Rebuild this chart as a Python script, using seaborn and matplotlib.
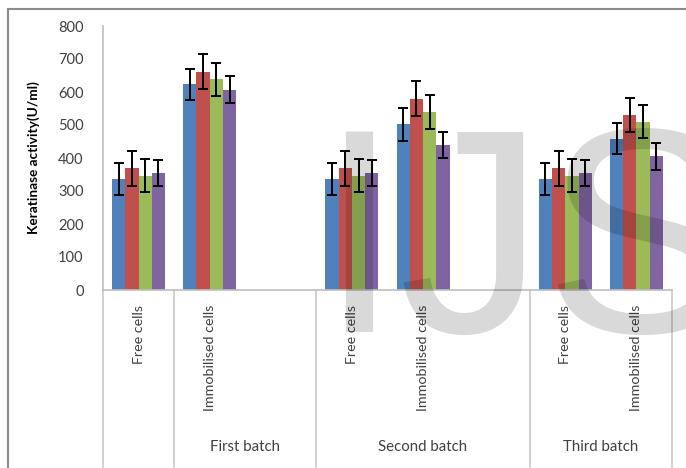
import matplotlib
matplotlib.use("Agg")
import matplotlib.pyplot as plt
import matplotlib.transforms as mtransforms
from matplotlib.patches import Rectangle
import seaborn as sns
import pandas as pd
import numpy as np

# ---- data ----
slots = ["F1", "I1", "E1", "F2", "I2", "E2", "F3", "I3"]
slot_labels = ["Free cells", "Immobilised cells", "", "Free cells", "Immobilised cells", "", "Free cells", "Immobilised cells"]
data_slots = ["F1", "I1", "F2", "I2", "F3", "I3"]
series = ["S1", "S2", "S3", "S4"]
values = {
    "S1": [336, 623, 336, 502, 336, 458],
    "S2": [369, 661, 369, 580, 369, 530],
    "S3": [346, 638, 346, 540, 346, 510],
    "S4": [354, 607, 354, 439, 354, 405],
}
errors = {
    "S1": [49, 48, 49, 49, 49, 47],
    "S2": [53, 53, 53, 52, 53, 52],
    "S3": [50, 50, 50, 51, 50, 50],
    "S4": [40, 40, 40, 40, 40, 41],
}
groups = ["First batch", "Second batch", "Third batch"]
group_spans = [(1, 2), (3, 5), (6, 7)]
separators = [-0.5, 0.5, 2.5, 5.5, 7.5]
colors = ["#4F81BD", "#C0504D", "#9BBB59", "#8064A2"]
yticks = [0, 100, 200, 300, 400, 500, 600, 700, 800]

rows = []
for s in series:
    for slot, v, e in zip(data_slots, values[s], errors[s]):
        rows.append({"slot": slot, "series": s, "value": v, "err": e})
df = pd.DataFrame(rows)

W, H = 686, 468
fig = plt.figure(figsize=(W / 100, H / 100), dpi=100)
ax = fig.add_axes([103 / W, (H - 290) / H, (672 - 103) / W, (290 - 26) / H])

sns.barplot(data=df, x="slot", y="value", hue="series", order=slots,
            hue_order=series, palette=colors, width=0.745, errorbar=None,
            saturation=1, legend=False, ax=ax, edgecolor="none", linewidth=0)

# error bars at the bar centres taken from seaborn's patches
for s, cont in zip(series, ax.containers):
    sub = df[df.series == s].set_index("slot")
    bars = [p for p in cont.patches if not np.isnan(p.get_height()) and p.get_height() > 0]
    xs = [p.get_x() + p.get_width() / 2 for p in bars]
    ys = [p.get_height() for p in bars]
    es = [sub.loc[sl, "err"] for sl in data_slots][:len(xs)]
    ax.errorbar(xs, ys, yerr=es, fmt="none", ecolor="black", elinewidth=1.4,
                capsize=3.5, capthick=1.4, zorder=5)

ax.set_xlim(-0.5, 7.5)
ax.set_ylim(0, 800)
ax.set_yticks(yticks)
ax.set_yticklabels([str(t) for t in yticks], fontsize=10.5, color="#404040", family="Lato")
ax.tick_params(axis="y", length=0, pad=14)
ax.tick_params(axis="x", length=0)
ax.set_xticks([])
ax.set_xlabel("")
ax.set_ylabel("Keratinase activity(U/ml)", fontsize=9.8, fontweight="bold", family="Lato", labelpad=13)
for sp in ["top", "right"]:
    ax.spines[sp].set_visible(False)
for sp in ["left", "bottom"]:
    ax.spines[sp].set_color("#bfbfbf")
    ax.spines[sp].set_linewidth(1.2)

trans = mtransforms.blended_transform_factory(ax.transData, ax.transAxes)
bot = -(467 - 290) / (290 - 26)
for xsep in separators:
    ax.plot([xsep, xsep], [0, bot], transform=trans, color="#c8c8c8", lw=1.2, clip_on=False)

lab_y = -(305 - 290) / (290 - 26)
for i, lab in enumerate(slot_labels):
    if lab:
        ax.text(i, lab_y, lab, transform=trans, rotation=90, ha="center", va="top",
                fontsize=10.3, color="#404040", family="Lato")

grp_y = -(447 - 290) / (290 - 26)
for g, (a, b) in zip(groups, group_spans):
    cx = ((a - 0.5) + (b + 0.5)) / 2
    ax.text(cx, grp_y, g, transform=trans, ha="center", va="center",
            fontsize=10.8, color="#404040", family="Lato")

# chart-area border (cropped at right/bottom)
fig.add_artist(Rectangle((8 / W, -0.1), 1.2, (H - 9) / H + 0.1, transform=fig.transFigure,
                         fill=False, edgecolor="#8c8c8c", lw=1.5))

# watermark
fig.text(318 / W, (H - 332) / H, "IJS", fontsize=210, family="Liberation Sans",
         color="black", alpha=0.15, ha="left", va="baseline", zorder=20)

fig.savefig("out.png", dpi=100)
